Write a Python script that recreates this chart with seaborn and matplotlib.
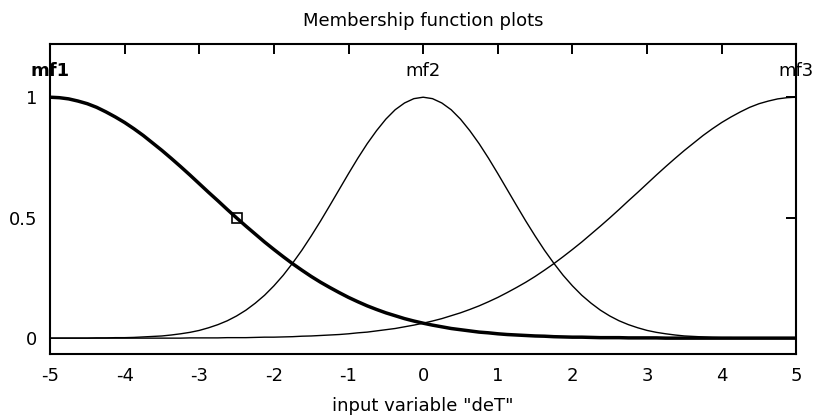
import numpy as np
import pandas as pd
import seaborn as sns
import matplotlib.pyplot as plt

# valores (passo de 0.125 em x)
x_vals = [-5.0, -4.875, -4.75, -4.625, -4.5, -4.375, -4.25, -4.125,
          -4.0, -3.875, -3.75, -3.625, -3.5, -3.375, -3.25, -3.125,
          -3.0, -2.875, -2.75, -2.625, -2.5, -2.375, -2.25, -2.125,
          -2.0, -1.875, -1.75, -1.625, -1.5, -1.375, -1.25, -1.125,
          -1.0, -0.875, -0.75, -0.625, -0.5, -0.375, -0.25, -0.125,
          0.0, 0.125, 0.25, 0.375, 0.5, 0.625, 0.75, 0.875,
          1.0, 1.125, 1.25, 1.375, 1.5, 1.625, 1.75, 1.875,
          2.0, 2.125, 2.25, 2.375, 2.5, 2.625, 2.75, 2.875,
          3.0, 3.125, 3.25, 3.375, 3.5, 3.625, 3.75, 3.875,
          4.0, 4.125, 4.25, 4.375, 4.5, 4.625, 4.75, 4.875, 5.0]

mf1 = [1.000, 0.998, 0.993, 0.984, 0.973, 0.958, 0.939, 0.918,
       0.895, 0.869, 0.841, 0.810, 0.779, 0.746, 0.712, 0.677,
       0.641, 0.605, 0.570, 0.534, 0.499, 0.465, 0.432, 0.399,
       0.368, 0.338, 0.309, 0.282, 0.256, 0.232, 0.210, 0.189,
       0.169, 0.151, 0.134, 0.119, 0.105, 0.093, 0.081, 0.071,
       0.062, 0.054, 0.047, 0.040, 0.035, 0.030, 0.025, 0.022,
       0.018, 0.015, 0.013, 0.011, 0.009, 0.008, 0.006, 0.005,
       0.004, 0.004, 0.003, 0.002, 0.002, 0.002, 0.001, 0.001,
       0.001, 0.001, 0.000, 0.000, 0.000, 0.000, 0.000, 0.000,
       0.000, 0.000, 0.000, 0.000, 0.000, 0.000, 0.000, 0.000, 0.000]

mf2 = [0.000, 0.000, 0.000, 0.000, 0.000, 0.001, 0.001, 0.002,
       0.002, 0.003, 0.005, 0.007, 0.009, 0.013, 0.018, 0.024,
       0.032, 0.043, 0.056, 0.072, 0.092, 0.116, 0.145, 0.178,
       0.217, 0.261, 0.311, 0.365, 0.424, 0.486, 0.551, 0.617,
       0.683, 0.747, 0.807, 0.861, 0.909, 0.948, 0.976, 0.994,
       1.000, 0.994, 0.976, 0.948, 0.909, 0.861, 0.807, 0.747,
       0.683, 0.617, 0.551, 0.486, 0.424, 0.365, 0.311, 0.261,
       0.217, 0.178, 0.145, 0.116, 0.092, 0.072, 0.056, 0.043,
       0.032, 0.024, 0.018, 0.013, 0.009, 0.007, 0.005, 0.003,
       0.002, 0.002, 0.001, 0.001, 0.000, 0.000, 0.000, 0.000, 0.000]

# mf3 é o espelho de mf1
mf3 = mf1[::-1]

mf_names = ['mf1', 'mf2', 'mf3']
mf_centers = [-5, 0, 5]
selected_point = (-2.5, 0.5)

df = pd.DataFrame({'x': x_vals, 'mf1': mf1, 'mf2': mf2, 'mf3': mf3})

sns.set_style('white')
plt.rcParams['font.family'] = ['DejaVu Sans']
plt.rcParams['axes.unicode_minus'] = False
plt.rcParams['text.color'] = 'black'
plt.rcParams['axes.labelcolor'] = 'black'

fig = plt.figure(figsize=(8.13, 4.17), dpi=100)
ax = fig.add_axes([0.0615, 0.151, 0.918, 0.743])

# mf1 selecionada -> linha grossa
sns.lineplot(data=df, x='x', y='mf1', ax=ax, color='black', linewidth=2.5, estimator=None)
sns.lineplot(data=df, x='x', y='mf2', ax=ax, color='black', linewidth=1.0, estimator=None)
sns.lineplot(data=df, x='x', y='mf3', ax=ax, color='black', linewidth=1.0, estimator=None)
ax.plot(*selected_point, 's', markerfacecolor='none', markeredgecolor='black',
        markersize=7, markeredgewidth=1.2)

# nomes das funções acima de cada curva
for name, c in zip(mf_names, mf_centers):
    ax.text(c, 1.11, name, ha='center', va='center', fontsize=13, color='black',
            fontweight='bold' if name == 'mf1' else 'normal')

ax.set_xlim(-5, 5)
ax.set_ylim(-0.066, 1.22)
ax.set_xticks(range(-5, 6))
ax.set_yticks([0, 0.5, 1])
ax.set_yticklabels(['0', '0.5', '1'])
ax.tick_params(direction='in', top=True, right=True, length=7, width=1.4,
               labelsize=13, colors='black', pad=9)
for s in ax.spines.values():
    s.set_color('black')
    s.set_linewidth(1.5)

ax.set_xlabel('input variable "deT"', fontsize=13, labelpad=9, color='black')
ax.set_ylabel('')
ax.set_title('Membership function plots', fontsize=13, pad=13, color='black')

plt.savefig('out.png', dpi=100)
